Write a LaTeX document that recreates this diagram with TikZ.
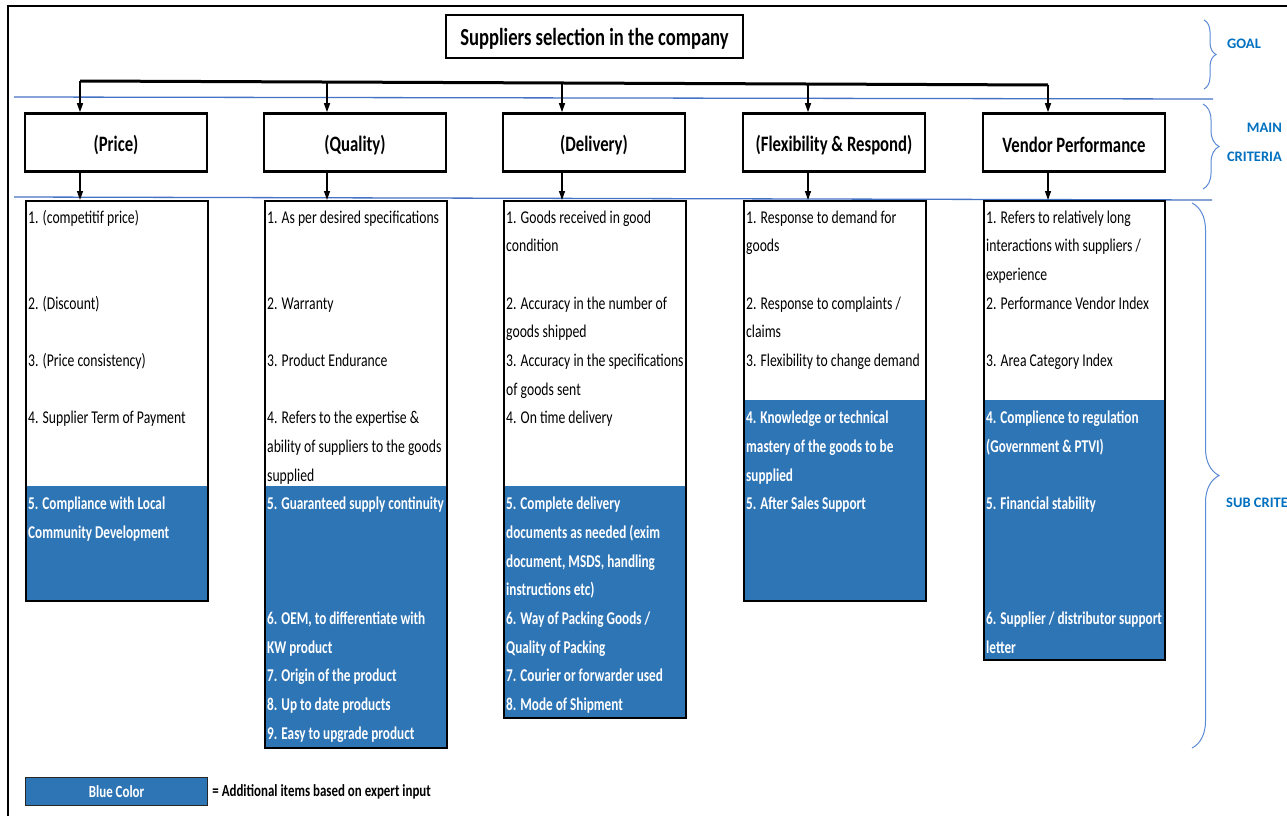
\documentclass[tikz,border=0pt]{standalone}
\usepackage{fontspec}
\setmainfont{Carlito}
\newfontfamily\cf[FakeStretch=0.76]{Carlito}
\newfontfamily\cfb[FakeStretch=0.735]{Carlito}
\usetikzlibrary{arrows.meta,decorations.pathreplacing}
\definecolor{bfill}{RGB}{46,117,182}
\definecolor{bline}{RGB}{68,114,196}
\definecolor{brcol}{RGB}{91,139,214}
\definecolor{lbl}{RGB}{0,112,192}
\newcommand\lowr[2]{\raisebox{-#1}[\height][\depth]{#2}}
\tikzset{
 itm/.style={anchor=base west, inner sep=0pt, font=\cf\fontsize{18}{20}\selectfont},
 bitm/.style={itm, font=\cfb\bfseries\fontsize{18}{20}\selectfont, text=white},
 mainbox/.style={draw, line width=2.6pt, minimum width=182pt, minimum height=58pt, inner sep=0pt, font=\cf\bfseries\fontsize{22}{24}\selectfont},
 subbox/.style={draw, line width=2.2pt, anchor=north west, minimum width=182pt, inner sep=0pt},
 arr/.style={line width=1.3pt, -{Triangle[length=9pt,width=6pt]}},
 brc/.style={draw=brcol, line width=1pt, decorate},
 lab/.style={text=lbl, font=\bfseries\fontsize{14.5}{17}\selectfont, inner sep=0pt},
 sep/.style={draw=bline, line width=1.3pt},
}
\begin{document}
\begin{tikzpicture}[x=1pt,y=-1pt]
\useasboundingbox (0,0) rectangle (1287,816);
\clip (0,0) rectangle (1287,816);
\fill[white] (0,0) rectangle (1287,816);
% frame
\draw[line width=1.5pt] (8,816) -- (8,6) -- (1287,6);
% separators
\draw[sep] (14,97) -- (1213,99);
\draw[sep] (14,197) -- (1212,200);
% goal
\node[draw, line width=2.2pt, minimum width=297pt, minimum height=43pt, inner sep=0pt, font=\cf\bfseries\fontsize{24.5}{26}\selectfont] (goal) at (594.5,36.5) {\lowr{2pt}{Suppliers selection in the company}};
% main criteria
\node[mainbox] (price) at (116,142.5) {\lowr{2.5pt}{(Price)}};
\node[mainbox] (quality) at (355,142.5) {\lowr{2.5pt}{(Quality)}};
\node[mainbox] (delivery) at (594,142.5) {\lowr{2.5pt}{(Delivery)}};
\node[mainbox] (flex) at (834,142.5) {\lowr{2.5pt}{(Flexibility \& Respond)}};
\node[mainbox] (vendor) at (1074,142.5) {\lowr{2.5pt}{Vendor Performance}};
% bus
\coordinate (b1) at (80,81);
\coordinate (b2) at (327,82);
\coordinate (b3) at (562,83);
\coordinate (b4) at (808,84);
\coordinate (b5) at (1048,85);
\draw[line width=3pt] (b1) -- (b5);
\draw[arr] (b1) -- (b1 |- price.north);
\draw[arr] (b2) -- (b2 |- quality.north);
\draw[arr] (b3) -- (b3 |- delivery.north);
\draw[arr] (b4) -- (b4 |- flex.north);
\draw[arr] (b5) -- (b5 |- vendor.north);
% blue fills
\fill[bfill] (25,486) rectangle (207,600);
\fill[bfill] (264,486) rectangle (446,747);
\fill[bfill] (503,486) rectangle (685,717);
\fill[bfill] (743,400) rectangle (925,600);
\fill[bfill] (983,400) rectangle (1164,659);
% sub boxes
\node[subbox, minimum height=400pt] (sprice) at (25,200) {};
\node[subbox, minimum height=547pt] (squality) at (264,200) {};
\node[subbox, minimum height=517pt] (sdelivery) at (503,200) {};
\node[subbox, minimum height=400pt] (sflex) at (743,200) {};
\node[subbox, minimum height=459pt, minimum width=181pt] (svendor) at (983,200) {};
\draw[arr] (price.south -| b1) -- (sprice.north -| b1);
\draw[arr] (quality.south -| b2) -- (squality.north -| b2);
\draw[arr] (delivery.south -| b3) -- (sdelivery.north -| b3);
\draw[arr] (flex.south -| b4) -- (sflex.north -| b4);
\draw[arr] (vendor.south -| b5) -- (svendor.north -| b5);
% items
\foreach \r/\s/\t in {0/itm/{1. (competitif price)},3/itm/{2. (Discount)},5/itm/{3. (Price consistency)},7/itm/{4. Supplier Term of Payment},10/bitm/{5. Compliance with Local},11/bitm/{Community Development}}
  \node[\s] (pr\r) at (28,{223+28.67*\r}) {\t};
\foreach \r/\s/\t in {0/itm/{1. As per desired specifications},3/itm/{2. Warranty},5/itm/{3. Product Endurance},7/itm/{4. Refers to the expertise \&},8/itm/{ability of suppliers to the goods},9/itm/{supplied},10/bitm/{5. Guaranteed supply continuity},14/bitm/{6. OEM, to differentiate with},15/bitm/{KW product},16/bitm/{7. Origin of the product},17/bitm/{8. Up to date products},18/bitm/{9. Easy to upgrade product}}
  \node[\s] (qu\r) at (267,{223+28.67*\r}) {\t};
\foreach \r/\s/\t in {0/itm/{1. Goods received in good},1/itm/{condition},3/itm/{2. Accuracy in the number of},4/itm/{goods shipped},5/itm/{3. Accuracy in the specifications},6/itm/{of goods sent},7/itm/{4. On time delivery},10/bitm/{5. Complete delivery},11/bitm/{documents as needed (exim},12/bitm/{document, MSDS, handling},13/bitm/{instructions etc)},14/bitm/{6. Way of Packing Goods /},15/bitm/{Quality of Packing},16/bitm/{7. Courier or forwarder used},17/bitm/{8. Mode of Shipment}}
  \node[\s] (de\r) at (506,{223+28.67*\r}) {\t};
\foreach \r/\s/\t in {0/itm/{1. Response to demand for},1/itm/{goods},3/itm/{2. Response to complaints /},4/itm/{claims},5/itm/{3. Flexibility to change demand},7/bitm/{4. Knowledge or technical},8/bitm/{mastery of the goods to be},9/bitm/{supplied},10/bitm/{5. After Sales Support}}
  \node[\s] (fl\r) at (746,{223+28.67*\r}) {\t};
\foreach \r/\s/\t in {0/itm/{1. Refers to relatively long},1/itm/{interactions with suppliers /},2/itm/{experience},3/itm/{2. Performance Vendor Index},5/itm/{3. Area Category Index},7/bitm/{4. Complience to regulation},8/bitm/{(Government \& PTVI)},10/bitm/{5. Financial stability},14/bitm/{6. Supplier / distributor support},15/bitm/{letter}}
  \node[\s] (ve\r) at (986,{223+28.67*\r}) {\t};
% braces
\draw[brc, decoration={brace, amplitude=12pt}] (1204,20) -- (1204,89);
\draw[brc, decoration={brace, amplitude=16pt}] (1203,104) -- (1203,189);
\draw[brc, decoration={brace, amplitude=27pt}] (1192,203) -- (1192,748);
\node[lab] (lgoal) at (1244,44) {GOAL};
\node[lab, anchor=east] (lmain) at (1282,128) {MAIN};
\node[lab, anchor=east] (lcrit) at (1282,157) {CRITERIA};
\node[lab, anchor=west] (lsub) at (1226,503) {SUB CRITERIA};
% legend
\node[draw=black!85, line width=1.2pt, fill=bfill, anchor=north west, minimum width=182pt, minimum height=28pt, inner sep=0pt, text=white, font=\cf\bfseries\fontsize{17}{19}\selectfont] (leg) at (25,777) {Blue Color};
\node[anchor=west, inner sep=0pt, font=\cf\bfseries\fontsize{17}{19}\selectfont] (legt) at ([xshift=4pt]leg.east) {= Additional items based on expert input};
\end{tikzpicture}
\end{document}
